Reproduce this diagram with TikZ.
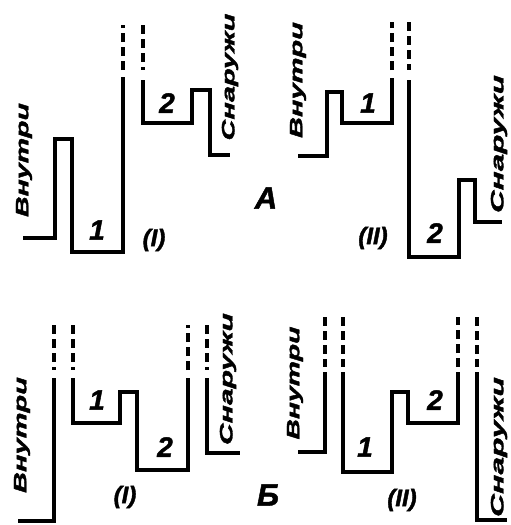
\documentclass[tikz,border=0pt]{standalone}
\usepackage{fontspec}
\setmainfont{Liberation Sans}
\newfontfamily\heavy{Liberation Sans}[BoldItalicFeatures={FakeBold=1.6}]
\usepackage{graphicx}
\newcommand{\stretched}[2]{\resizebox{#1}{\height}{#2}}
\tikzset{
  wall/.style={line width=3.8pt,line join=miter,line cap=butt},
  gap/.style={line width=3.8pt,dash pattern=on 9pt off 5pt},
  side/.style={rotate=90,inner sep=0pt,font=\heavy\fontsize{18}{20}\selectfont\bfseries\itshape},
  num/.style={inner sep=0pt,font=\heavy\fontsize{28}{30}\selectfont\bfseries\itshape},
  tag/.style={inner sep=0pt,font=\heavy\fontsize{24}{26}\selectfont\bfseries\itshape},
  case/.style={inner sep=0pt,font=\heavy\fontsize{31}{33}\selectfont\bfseries\itshape}
}
\begin{document}
\begin{tikzpicture}[x=1pt,y=-1pt]
\useasboundingbox (0,0) rectangle (511,525);
\draw[wall] (23,238) -- (55,238) -- (55,139) -- (72,139) -- (72,252) -- (123,252) -- (123,77);
\draw[gap] (123,70) -- (123,25);
\draw[gap] (143,25) -- (143,70);
\draw[wall] (143,80) -- (143,123) -- (192,123) -- (192,90) -- (210,90) -- (210,155) -- (230,155);
\node[side] (inAI) at (24,160) {\stretched{114pt}{Внутри}};
\node[side] (outAI) at (230,77) {\stretched{127pt}{Снаружи}};
\node[num] (oneAI) at (97,230) {1};
\node[num] (twoAI) at (167,103) {2};
\node[tag] (tagAI) at (154,240) {(I)};
\draw[wall] (298,156) -- (327,156) -- (327,92) -- (342,92) -- (342,123) -- (392,123) -- (392,78);
\draw[gap] (392,70) -- (392,22);
\draw[gap] (409,22) -- (409,70);
\draw[wall] (409,80) -- (409,257) -- (459,257) -- (459,180) -- (475,180) -- (475,222) -- (502,222);
\node[side] (inAII) at (298,80) {\stretched{116pt}{Внутри}};
\node[side] (outAII) at (499,144) {\stretched{138pt}{Снаружи}};
\node[num] (oneAII) at (368,103) {1};
\node[num] (twoAII) at (435,233) {2};
\node[tag] (tagAII) at (373,238) {(II)};
\node[case] (caseA) at (266,198) {А};
\draw[gap] (54,325) -- (54,370);
\draw[wall] (54,378) -- (54,521) -- (18,521);
\draw[gap] (73,325) -- (73,370);
\draw[wall] (73,378) -- (73,423) -- (120,423) -- (120,392) -- (137,392) -- (137,470) -- (188,470) -- (188,378);
\draw[gap] (188,370) -- (188,325);
\draw[gap] (207,325) -- (207,370);
\draw[wall] (207,378) -- (207,453) -- (240,453);
\node[side] (inBI) at (22,435) {\stretched{116pt}{Внутри}};
\node[side] (outBI) at (228,379) {\stretched{132pt}{Снаружи}};
\node[num] (oneBI) at (97,400) {1};
\node[num] (twoBI) at (165,447) {2};
\node[tag] (tagBI) at (125,497) {(I)};
\draw[gap] (325,317) -- (325,367);
\draw[wall] (325,372) -- (325,452) -- (298,452);
\draw[gap] (343,317) -- (343,367);
\draw[wall] (343,372) -- (343,472) -- (392,472) -- (392,392) -- (408,392) -- (408,423) -- (458,423) -- (458,372);
\draw[gap] (458,367) -- (458,317);
\draw[gap] (477,317) -- (477,367);
\draw[wall] (477,372) -- (477,520) -- (507,520);
\node[side] (inBII) at (295,383) {\stretched{113pt}{Внутри}};
\node[side] (outBII) at (499,447) {\stretched{140pt}{Снаружи}};
\node[num] (oneBII) at (365,447) {1};
\node[num] (twoBII) at (435,400) {2};
\node[tag] (tagBII) at (402,500) {(II)};
\node[case] (caseB) at (268,495) {Б};
\end{tikzpicture}
\end{document}
